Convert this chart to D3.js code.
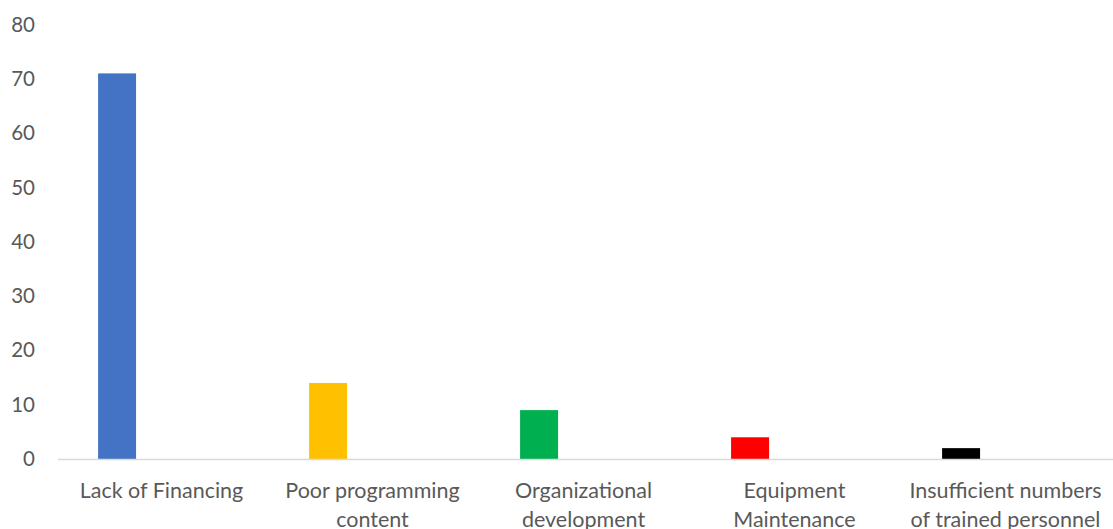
<!DOCTYPE html>
<html>
<head>
<meta charset="utf-8">
<script src="https://cdn.jsdelivr.net/npm/d3@7"></script>
<style>
  html, body { margin: 0; padding: 0; background: #fff; }
  svg { display: block; }
  text { font-family: Lato, "Open Sans", sans-serif; fill: #595959; }
</style>
</head>
<body>
<svg id="chart" width="1113" height="529"></svg>
<script>
// Challenges reported (percent of respondents)
const categories = [
  "Lack of Financing",
  "Poor programming content",
  "Organizational development",
  "Equipment Maintenance",
  "Insufficient numbers of trained personnel"
];
const categoryLines = [
  ["Lack of Financing"],
  ["Poor programming", "content"],
  ["Organizational", "development"],
  ["Equipment", "Maintenance"],
  ["Insufficient numbers", "of trained personnel"]
];
const values = [71, 14, 9, 4, 2];
const barColors = ["#4472c4", "#ffc000", "#00b050", "#ff0000", "#000000"];
const yTicks = [0, 10, 20, 30, 40, 50, 60, 70, 80];

const svg = d3.select("#chart");
const margin = { left: 58, right: 0, top: 24.5 };
const width = 1113;
const plotBottom = 459;

const x = d3.scaleBand()
  .domain(categories)
  .range([margin.left, width - margin.right])
  .padding(0);

const y = d3.scaleLinear()
  .domain([0, 80])
  .range([plotBottom, margin.top]);

// Each bar occupies the leading slot of its category group
const barOffset = 0.19, barWidth = 0.18;

svg.append("g")
  .selectAll("rect")
  .data(categories)
  .join("rect")
  .attr("x", (c) => x(c) + x.bandwidth() * barOffset)
  .attr("width", x.bandwidth() * barWidth)
  .attr("y", (c, i) => y(values[i]))
  .attr("height", (c, i) => y(0) - y(values[i]))
  .attr("fill", (c, i) => barColors[i]);

// Y axis labels
const yAxis = svg.append("g")
  .attr("transform", `translate(${margin.left},0)`)
  .call(d3.axisLeft(y).tickValues(yTicks).tickSize(0).tickPadding(23));
yAxis.select(".domain").remove();
yAxis.selectAll("text")
  .style("font-size", "20.5px")
  .style("fill", "#595959")
  .style("font-family", "Lato, 'Open Sans', sans-serif");

// Category axis line
svg.append("line")
  .attr("x1", margin.left)
  .attr("x2", width)
  .attr("y1", y(0) + 0.5)
  .attr("y2", y(0) + 0.5)
  .attr("stroke", "#d9d9d9")
  .attr("stroke-width", 1.5);

// Category labels (wrapped)
const labels = svg.append("g")
  .selectAll("text")
  .data(categories)
  .join("text")
  .attr("text-anchor", "middle")
  .attr("x", (c) => x(c) + x.bandwidth() / 2 - 2)
  .attr("y", 498)
  .style("font-size", "21.5px");
labels.selectAll("tspan")
  .data((c, i) => categoryLines[i])
  .join("tspan")
  .attr("x", function () { return this.parentNode.getAttribute("x"); })
  .attr("dy", (d, j) => j === 0 ? 0 : 29)
  .text((d) => d);
</script>
</body>
</html>
